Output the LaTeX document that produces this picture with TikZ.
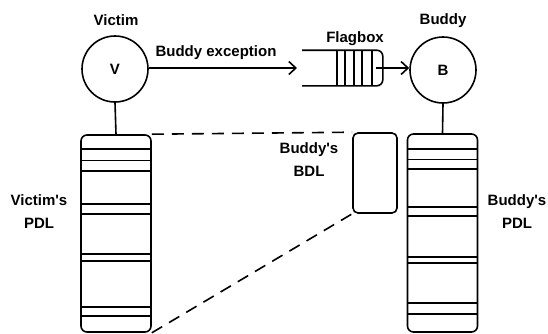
\documentclass[tikz,border=0pt]{standalone}
\usepackage{fontspec}
\setmainfont{Liberation Sans}
\usetikzlibrary{arrows.meta}
\begin{document}
\begin{tikzpicture}[x=1pt,y=-1pt,line width=1.6pt,
  every node/.style={font=\fontsize{15}{19}\selectfont\bfseries},
  proc/.style={circle,draw,minimum size=66pt,inner sep=0pt},
  list/.style={draw,rounded corners=6pt,minimum width=70pt,inner sep=0pt},
  arr/.style={-{Straight Barb[length=7pt,width=13pt,line width=1.6pt]}},
  link/.style={dash pattern=on 12pt off 8pt},
  stripe/.style={line width=1.9pt},
  label/.style={align=center,inner sep=0pt}]
\useasboundingbox (0,0) rectangle (548,333);

% processes
\node[proc] (V) at (115,69) {V};
\node[proc] (B) at (443,70) {B};
\node[label] (vname) at (116,20) {Victim};
\node[label] (bname) at (443,21) {Buddy};

% flagbox queue
\node[minimum width=79pt,minimum height=34pt,inner sep=0pt] (F) at (342.5,68) {};
\draw[rounded corners=6pt] (F.north west) -- (F.north east) -- (F.south east) -- (F.south west);
\foreach \x in {337,345,354,362,372}
  \draw (\x,51) -- (\x,85);
\node[label] (fname) at (355,39) {Flagbox};
\coordinate (fin) at (297,68);
\coordinate (fout) at (376,68);

\draw[arr] (V.east |- fin) -- (fin);
\node[label] (exc) at (216,53) {Buddy exception};
\draw[arr] (fout) -- (B.west |- fout);

% descriptor lists
\node[list,minimum height=197pt] (VP) at (116,233.5) {};
\node[list,minimum height=198pt] (BP) at (442.5,233) {};
\draw (V.south) -- (VP.north);
\draw (B.south) -- (BP.north);
\foreach \y in {149,171,204,214,254,261,307,316}
  \draw[stripe] (VP.west |- 0,\y) -- (VP.east |- 0,\y);
\draw[line width=0.8pt] (VP.west |- 0,160) -- (VP.east |- 0,160);
\foreach \y in {149,169,207,216,257,263,303,314}
  \draw[stripe] (BP.west |- 0,\y) -- (BP.east |- 0,\y);
\draw[line width=0.8pt] (BP.west |- 0,159) -- (BP.east |- 0,159);

\node[draw,rounded corners=5pt,minimum width=44pt,minimum height=80pt,inner sep=0pt] (BDL) at (375,173) {};
\draw[link] (VP.north east) -- (BDL.north west);
\draw[link] (VP.south east) -- (BDL.south west);

% list labels
\node[label] (vpdl) at (39,212) {Victim\textquotesingle s\\[4pt]PDL};
\node[label] (bpdl) at (517,212) {Buddy\textquotesingle s\\[4pt]PDL};
\node[label] (bbdl) at (309,160) {Buddy\textquotesingle s\\[4pt]BDL};
\end{tikzpicture}
\end{document}
